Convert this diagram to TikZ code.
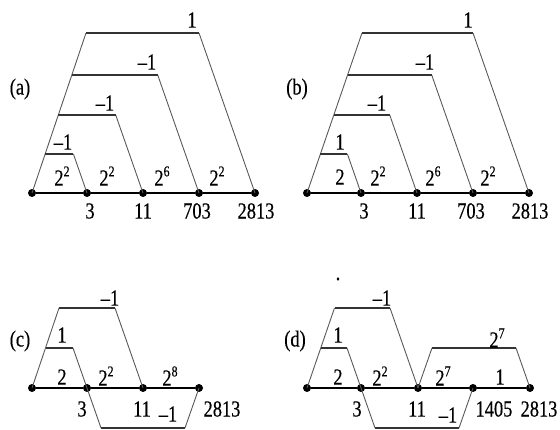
\documentclass[tikz,border=0pt]{standalone}
\usepackage{fontspec}
\setmainfont[FakeBold=0.4]{Liberation Serif}
\newcommand\tx[1]{\scalebox{.8}[1]{#1}}
\newcommand\pw[1]{\scalebox{.8}[1]{2\raisebox{0.4em}{\fontsize{15}{15}\selectfont #1}}}
\tikzset{
  lab/.style={inner sep=0pt, text=black, font=\fontsize{23}{23}\selectfont},
  dot/.style={circle, fill=black, inner sep=0pt, minimum size=8pt},
  bar/.style={line width=2pt, draw=black!80},
  leg/.style={line width=0.9pt, draw=black!65},
  base/.style={line width=2.2pt, draw=black}
}
\begin{document}
\begin{tikzpicture}[x=1pt,y=-1pt]
\useasboundingbox (0,0) rectangle (560,430);
% ---------------- (a)
\node[dot] (a0) at (32,193) {};
\node[dot] (a1) at (87,193) {};
\node[dot] (a2) at (143,193) {};
\node[dot] (a3) at (199,193) {};
\node[dot] (a4) at (255,193) {};
\draw[base] (a0) -- (a1) -- (a2) -- (a3) -- (a4);
\coordinate (aT1) at (86,33);  \coordinate (aT2) at (199,33);
\coordinate (aU1) at (71.8,75); \coordinate (aU2) at (157.7,75);
\coordinate (aV1) at (58.3,115); \coordinate (aV2) at (115.7,115);
\coordinate (aW1) at (45.2,154); \coordinate (aW2) at (73.4,154);
\draw[leg] (a0.center) -- (aT1);
\draw[leg] (aT2) -- (a4.center);
\draw[leg] (aU2) -- (a3.center);
\draw[leg] (aV2) -- (a2.center);
\draw[leg] (aW2) -- (a1.center);
\draw[bar] (aT1) -- (aT2);
\draw[bar] (aU1) -- (aU2);
\draw[bar] (aV1) -- (aV2);
\draw[bar] (aW1) -- (aW2);
\node[lab] (alA) at (20,89) {\tx{(a)}};
\node[lab] (al1) at (192,20) {\tx{1}};
\node[lab] (al2) at (147,62) {\tx{--1}};
\node[lab] (al3) at (105,103) {\tx{--1}};
\node[lab] (al4) at (63,142) {\tx{--1}};
\node[lab] (al5) at (62,176) {\pw{2}};
\node[lab] (al6) at (107,176) {\pw{2}};
\node[lab] (al7) at (162,176) {\pw{6}};
\node[lab] (al8) at (217,176) {\pw{2}};
\node[lab] (an1) at (90,211) {\tx{3}};
\node[lab] (an2) at (143,211) {\tx{11}};
\node[lab] (an3) at (197,211) {\tx{703}};
\node[lab] (an4) at (256,211) {\tx{2813}};
% ---------------- (b)
\node[dot] (b0) at (307,193) {};
\node[dot] (b1) at (361,193) {};
\node[dot] (b2) at (417,193) {};
\node[dot] (b3) at (473,193) {};
\node[dot] (b4) at (529,193) {};
\draw[base] (b0) -- (b1) -- (b2) -- (b3) -- (b4);
\coordinate (bT1) at (362,33);  \coordinate (bT2) at (473,33);
\coordinate (bU1) at (347.6,75); \coordinate (bU2) at (431.7,75);
\coordinate (bV1) at (333.8,115); \coordinate (bV2) at (389.7,115);
\coordinate (bW1) at (320.4,154); \coordinate (bW2) at (347.4,154);
\draw[leg] (b0.center) -- (bT1);
\draw[leg] (bT2) -- (b4.center);
\draw[leg] (bU2) -- (b3.center);
\draw[leg] (bV2) -- (b2.center);
\draw[leg] (bW2) -- (b1.center);
\draw[bar] (bT1) -- (bT2);
\draw[bar] (bU1) -- (bU2);
\draw[bar] (bV1) -- (bV2);
\draw[bar] (bW1) -- (bW2);
\node[lab] (blB) at (297,89) {\tx{(b)}};
\node[lab] (bl1) at (468,20) {\tx{1}};
\node[lab] (bl2) at (425,62) {\tx{--1}};
\node[lab] (bl3) at (377,103) {\tx{--1}};
\node[lab] (bl4) at (340,142) {\tx{1}};
\node[lab] (bl5) at (340,177) {\tx{2}};
\node[lab] (bl6) at (378,176) {\pw{2}};
\node[lab] (bl7) at (433,176) {\pw{6}};
\node[lab] (bl8) at (488,176) {\pw{2}};
\node[lab] (bn1) at (364,211) {\tx{3}};
\node[lab] (bn2) at (417,211) {\tx{11}};
\node[lab] (bn3) at (471,211) {\tx{703}};
\node[lab] (bn4) at (530,211) {\tx{2813}};
% ---------------- (c)
\node[dot] (c0) at (32,388) {};
\node[dot] (c1) at (87,388) {};
\node[dot] (c2) at (143,388) {};
\node[dot] (c3) at (199,388) {};
\draw[base] (c0) -- (c1) -- (c2) -- (c3);
\coordinate (cT1) at (59,308);  \coordinate (cT2) at (115,308);
\coordinate (cU1) at (45.5,348); \coordinate (cU2) at (73,348);
\coordinate (cL1) at (101,428); \coordinate (cL2) at (185,428);
\draw[leg] (c0.center) -- (cT1);
\draw[leg] (cT2) -- (c2.center);
\draw[leg] (cU2) -- (c1.center);
\draw[leg] (c1.center) -- (cL1);
\draw[leg] (cL2) -- (c3.center);
\draw[bar] (cT1) -- (cT2);
\draw[bar] (cU1) -- (cU2);
\draw[bar] (cL1) -- (cL2);
\node[lab] (clC) at (20,341) {\tx{(c)}};
\node[lab] (cl1) at (110,298) {\tx{--1}};
\node[lab] (cl2) at (62,335) {\tx{1}};
\node[lab] (cl3) at (62,377) {\tx{2}};
\node[lab] (cl4) at (106,376) {\pw{2}};
\node[lab] (cl5) at (170,376) {\pw{8}};
\node[lab] (cn1) at (82,409) {\tx{3}};
\node[lab] (cn2) at (142,409) {\tx{11}};
\node[lab] (cl6) at (168,414) {\tx{--1}};
\node[lab] (cn3) at (222,409) {\tx{2813}};
% ---------------- (d)
\node[dot] (d0) at (307,388) {};
\node[dot] (d1) at (361,388) {};
\node[dot] (d2) at (418,388) {};
\node[dot] (d3) at (473,388) {};
\node[dot] (d4) at (530,388) {};
\draw[base] (d0) -- (d1) -- (d2) -- (d3) -- (d4);
\coordinate (dT1) at (334.5,308);  \coordinate (dT2) at (390,308);
\coordinate (dU1) at (320.8,348); \coordinate (dU2) at (347,348);
\coordinate (dR1) at (432,348); \coordinate (dR2) at (516,348);
\coordinate (dL1) at (375,428); \coordinate (dL2) at (459,428);
\draw[leg] (d0.center) -- (dT1);
\draw[leg] (dT2) -- (d2.center);
\draw[leg] (dU2) -- (d1.center);
\draw[leg] (d2.center) -- (dR1);
\draw[leg] (dR2) -- (d4.center);
\draw[leg] (d1.center) -- (dL1);
\draw[leg] (dL2) -- (d3.center);
\draw[bar] (dT1) -- (dT2);
\draw[bar] (dU1) -- (dU2);
\draw[bar] (dR1) -- (dR2);
\draw[bar] (dL1) -- (dL2);
\node[lab] (dlD) at (295,341) {\tx{(d)}};
\node[lab] (dl0) at (338,279) {\tx{.}};
\node[lab] (dl1) at (382,298) {\tx{--1}};
\node[lab] (dl2) at (338,335) {\tx{1}};
\node[lab] (dl3) at (338,377) {\tx{2}};
\node[lab] (dl4) at (380,376) {\pw{2}};
\node[lab] (dl5) at (443,376) {\pw{7}};
\node[lab] (dl6) at (500,377) {\tx{1}};
\node[lab] (dl7) at (497,338) {\pw{7}};
\node[lab] (dn1) at (357,409) {\tx{3}};
\node[lab] (dn2) at (417,409) {\tx{11}};
\node[lab] (dl8) at (448,415) {\tx{--1}};
\node[lab] (dn3) at (494,409) {\tx{1405}};
\node[lab] (dn4) at (539,409) {\tx{2813}};
\end{tikzpicture}
\end{document}
